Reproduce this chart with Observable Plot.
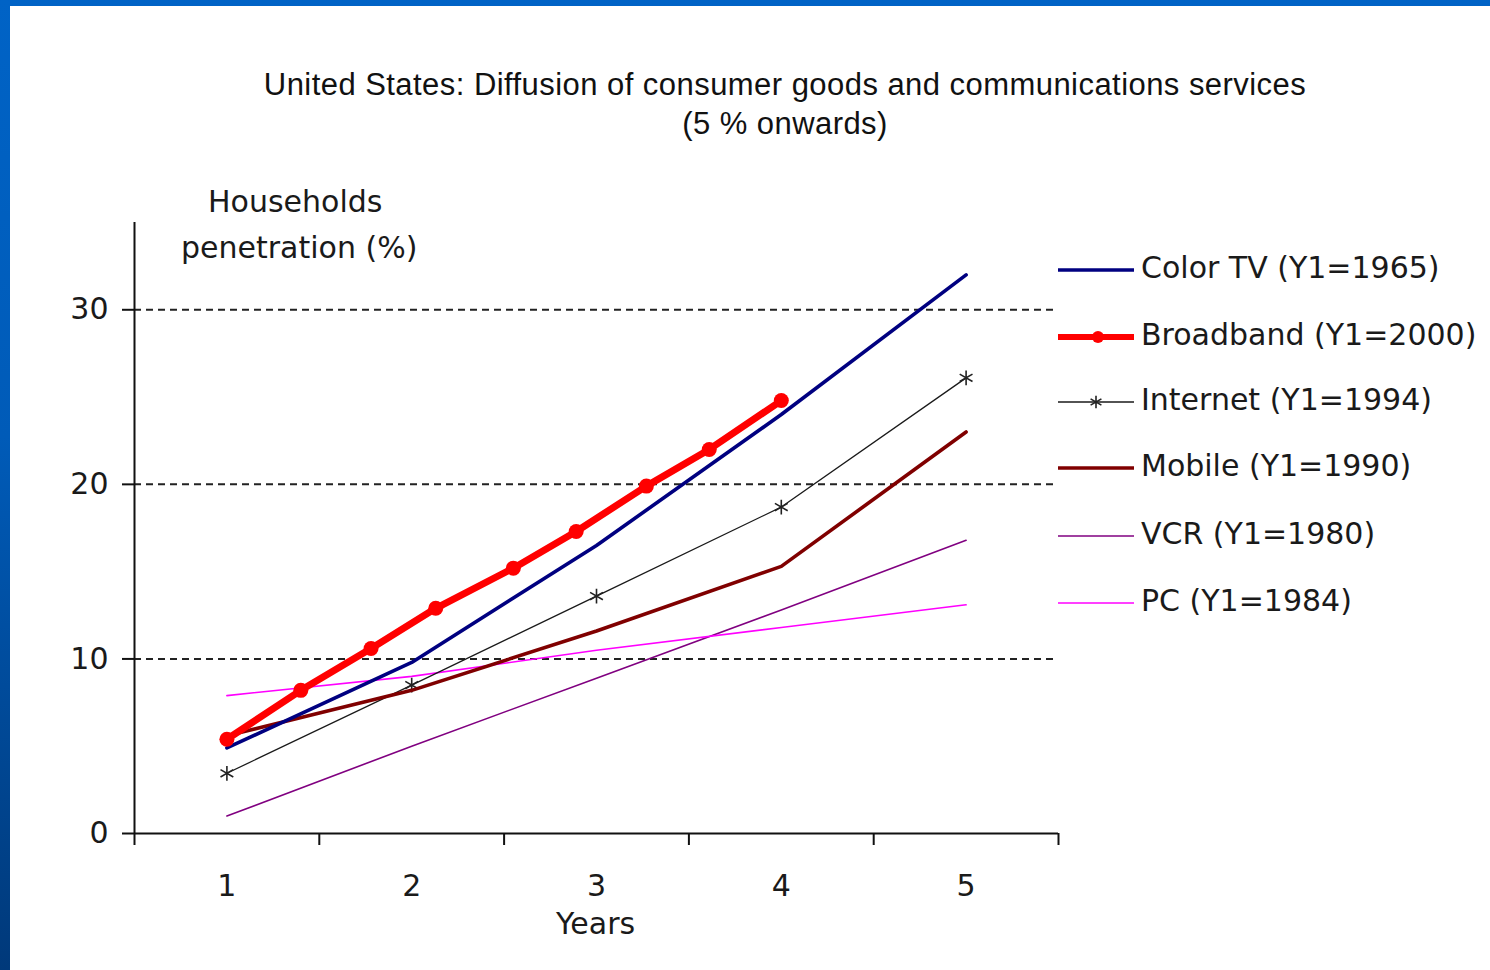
<!DOCTYPE html>
<html>
<head>
<meta charset="utf-8">
<script src="https://cdn.jsdelivr.net/npm/d3@7"></script>
<script src="https://cdn.jsdelivr.net/npm/@observablehq/plot@0.6"></script>
<style>
  html, body { margin: 0; padding: 0; }
  body {
    width: 1490px; height: 970px; overflow: hidden;
    background: linear-gradient(180deg, #0063c6 0%, #005bb8 45%, #00397a 100%);
    position: relative;
  }
  #panel { position: absolute; left: 10px; top: 6px; width: 1480px; height: 964px; background: #fff; }
  .t { position: absolute; white-space: nowrap; color: #111; }
  .title { font-family: "Liberation Sans", Arial, sans-serif; font-size: 31px; line-height: 31px; letter-spacing: 0.45px; text-align: center; left: 185px; width: 1200px; }
  .lab { font-family: "DejaVu Sans", sans-serif; font-size: 30px; line-height: 30px; color: #1a1a1a; }
  #chart { position: absolute; left: 0; top: 0; }
  .leg { position: absolute; left: 1052px; height: 40px; display: flex; align-items: center; }
  .leg svg { margin-right: 5px; }
</style>
</head>
<body>
<div id="panel"></div>
<div id="chart"></div>
<div class="t title" style="top:69px">United States: Diffusion of consumer goods and communications services</div>
<div class="t title" style="top:108px">(5 % onwards)</div>
<div class="t lab" style="top:187px; left:208px">Households</div>
<div class="t lab" style="top:233px; left:181px">penetration (%)</div>
<div class="t lab" style="top:909px; left:556px">Years</div>
<div id="legend"></div>
<script>
// ---- data ----
const years = [1, 2, 3, 4, 5];
const colorTV = [4.9, 9.8, 16.5, 24.0, 32.0];
const internet = [3.45, 8.5, 13.6, 18.7, 26.1];
const mobile = [5.6, 8.2, 11.6, 15.3, 23.0];
const vcr = [1.0, 5.0, 8.9, 12.8, 16.8];
const pc = [7.9, 9.0, 10.5, 11.8, 13.1];
const broadbandX = [1.0, 1.40, 1.78, 2.13, 2.55, 2.89, 3.27, 3.61, 4.0];
const broadbandY = [5.4, 8.2, 10.6, 12.9, 15.2, 17.3, 19.9, 22.0, 24.8];

const yTicks = [0, 10, 20, 30];
const gridValues = [10, 20, 30];
const xLabels = ["1", "2", "3", "4", "5"];
const xBoundaries = [0.5, 1.5, 2.5, 3.5, 4.5, 5.5];

const seriesNames = ["Color TV (Y1=1965)", "Broadband (Y1=2000)", "Internet (Y1=1994)", "Mobile (Y1=1990)", "VCR (Y1=1980)", "PC (Y1=1984)"];
const seriesColors = ["#000080", "#ff0000", "#1a1a1a", "#800000", "#800080", "#ff00ff"];
const seriesWidths = [3.6, 7, 1.3, 3.6, 1.6, 1.6];

const toRows = (xs, ys) => xs.map((x, i) => ({x, y: ys[i]}));
const rowsTV = toRows(years, colorTV);
const rowsInt = toRows(years, internet);
const rowsMob = toRows(years, mobile);
const rowsVcr = toRows(years, vcr);
const rowsPc = toRows(years, pc);
const rowsBB = toRows(broadbandX, broadbandY);

const chart = Plot.plot({
  width: 1490,
  height: 970,
  marginLeft: 134,
  marginRight: 432,
  marginTop: 222,
  marginBottom: 137,
  style: { fontFamily: "DejaVu Sans, sans-serif", fontSize: "30px", color: "#1a1a1a", background: "transparent" },
  x: { domain: [0.5, 5.5] },
  y: { domain: [0, 35] },
  marks: [
    Plot.ruleY(gridValues, { stroke: "#222", strokeWidth: 2, strokeDasharray: "7,5" }),
    Plot.axisY({ ticks: yTicks, tickSize: 12, tickPadding: 14, tickFormat: d3.format("d"), label: null, strokeWidth: 2, stroke: "#111" }),
    Plot.axisX({ ticks: xBoundaries, tickSize: 12, tickFormat: () => "", label: null, strokeWidth: 2, stroke: "#111" }),
    Plot.axisX({ ticks: years, tickSize: 0, tickPadding: 41, tickFormat: (d, i) => xLabels[i], label: null }),
    Plot.ruleX([0.5], { stroke: "#111", strokeWidth: 2 }),
    Plot.ruleY([0], { stroke: "#111", strokeWidth: 2 }),
    Plot.line(rowsVcr, { x: "x", y: "y", stroke: seriesColors[4], strokeWidth: seriesWidths[4] }),
    Plot.line(rowsPc, { x: "x", y: "y", stroke: seriesColors[5], strokeWidth: seriesWidths[5] }),
    Plot.line(rowsInt, { x: "x", y: "y", stroke: seriesColors[2], strokeWidth: seriesWidths[2] }),
    Plot.dot(rowsInt, { x: "x", y: "y", symbol: "asterisk", r: 7, stroke: "#222", strokeWidth: 1.6 }),
    Plot.line(rowsMob, { x: "x", y: "y", stroke: seriesColors[3], strokeWidth: seriesWidths[3] }),
    Plot.line(rowsTV, { x: "x", y: "y", stroke: seriesColors[0], strokeWidth: seriesWidths[0] }),
    Plot.line(rowsBB, { x: "x", y: "y", stroke: seriesColors[1], strokeWidth: seriesWidths[1] }),
    Plot.dot(rowsBB, { x: "x", y: "y", fill: seriesColors[1], r: 7.5 })
  ]
});
document.getElementById("chart").appendChild(chart);

// ---- legend ----
const legend = document.getElementById("legend");
const legTops = [248, 315, 380, 446, 514, 581];
seriesNames.forEach((name, i) => {
  const row = document.createElement("div");
  row.className = "leg";
  row.style.top = legTops[i] + "px";
  const ns = "http://www.w3.org/2000/svg";
  const svg = document.createElementNS(ns, "svg");
  svg.setAttribute("width", 84); svg.setAttribute("height", 20);
  const ln = document.createElementNS(ns, "line");
  ln.setAttribute("x1", 6); ln.setAttribute("x2", 82); ln.setAttribute("y1", 12); ln.setAttribute("y2", 12);
  ln.setAttribute("stroke", seriesColors[i]); ln.setAttribute("stroke-width", Math.min(seriesWidths[i], 6));
  svg.appendChild(ln);
  if (i === 1) {
    const c = document.createElementNS(ns, "circle");
    c.setAttribute("cx", 46); c.setAttribute("cy", 12); c.setAttribute("r", 6); c.setAttribute("fill", seriesColors[i]);
    svg.appendChild(c);
  }
  if (i === 2) {
    const g = document.createElementNS(ns, "path");
    g.setAttribute("transform", "translate(44,12)");
    g.setAttribute("d", d3.symbol(d3.symbolAsterisk, 110)());
    g.setAttribute("stroke", "#222"); g.setAttribute("stroke-width", 1.6); g.setAttribute("fill", "none");
    svg.appendChild(g);
  }
  row.appendChild(svg);
  const tx = document.createElement("span");
  tx.className = "lab";
  tx.textContent = name;
  row.appendChild(tx);
  legend.appendChild(row);
});
</script>
</body>
</html>
